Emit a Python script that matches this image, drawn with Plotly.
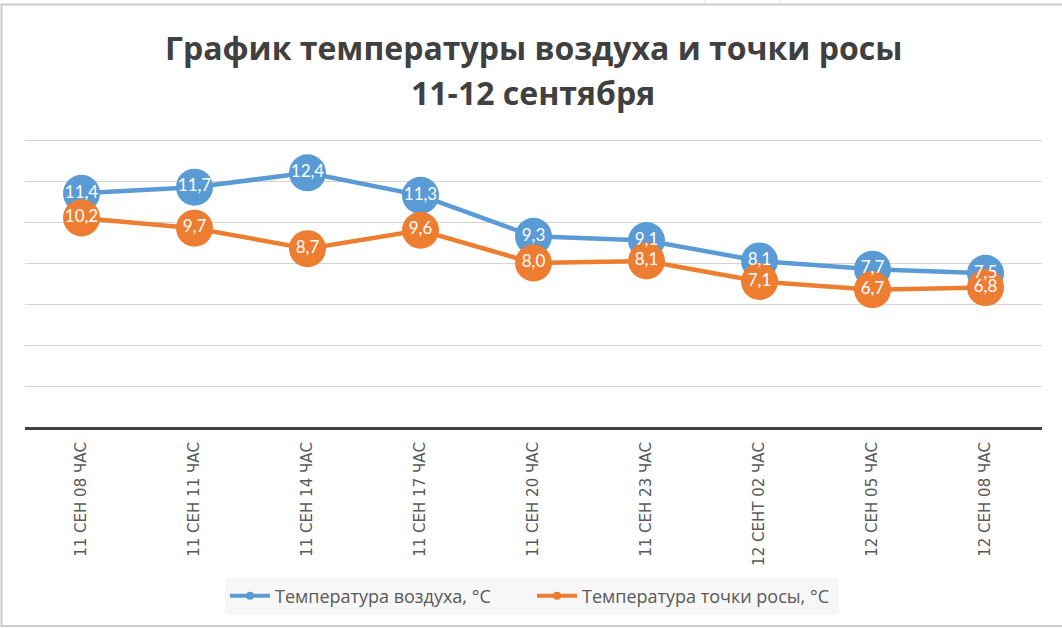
import plotly.graph_objects as go

categories = ["11 СЕН 08 ЧАС", "11 СЕН 11 ЧАС", "11 СЕН 14 ЧАС", "11 СЕН 17 ЧАС",
              "11 СЕН 20 ЧАС", "11 СЕН 23 ЧАС", "12 СЕНТ 02 ЧАС", "12 СЕН 05 ЧАС",
              "12 СЕН 08 ЧАС"]
air_temp = [11.4, 11.7, 12.4, 11.3, 9.3, 9.1, 8.1, 7.7, 7.5]
dew_point = [10.2, 9.7, 8.7, 9.6, 8.0, 8.1, 7.1, 6.7, 6.8]
series_names = ["Температура воздуха, °C", "Температура точки росы, °C"]
title_lines = ["График температуры воздуха и точки росы", "11-12 сентября"]

BLUE = "#5B9BD5"
ORANGE = "#ED7D31"
W, H = 1062, 628
YMAX = 14.05
L, R, T, B = 25, 20, 139, 201
pw, ph = W - L - R, H - T - B

def px_x(p):
    return (p - L) / pw

def px_y(p):
    return (H - B - p) / ph

fig = go.Figure()
xs = list(range(len(categories)))
for vals, col in [(air_temp, BLUE), (dew_point, ORANGE)]:
    fig.add_trace(go.Scatter(
        x=xs, y=vals, mode="lines+markers", showlegend=False,
        line=dict(color=col, width=4.5),
        marker=dict(size=37, color=col, line=dict(width=0)),
        hoverinfo="skip"))
for vals in [air_temp, dew_point]:
    fig.add_trace(go.Scatter(
        x=xs, y=vals, mode="text", showlegend=False,
        texttemplate="%{y:.1f}", textposition="middle center",
        textfont=dict(family="Lato", size=17, color="white"),
        hoverinfo="skip"))
for name, col in zip(series_names, [BLUE, ORANGE]):
    fig.add_trace(go.Scatter(
        x=[None], y=[None], mode="lines+markers", name=name,
        line=dict(color=col, width=4), marker=dict(size=8, color=col)))

shapes = [
    dict(type="rect", xref="paper", yref="paper",
         x0=px_x(1.5), x1=px_x(1075), y0=px_y(626), y1=px_y(4.5),
         line=dict(color="#cccccc", width=2), fillcolor="rgba(0,0,0,0)", layer="below"),
    dict(type="line", xref="paper", yref="paper",
         x0=px_x(705), x1=px_x(705), y0=px_y(0), y1=px_y(4),
         line=dict(color="#dddddd", width=1)),
    dict(type="line", xref="paper", yref="paper",
         x0=px_x(780), x1=px_x(780), y0=px_y(0), y1=px_y(4),
         line=dict(color="#dddddd", width=1)),
]

annotations = [
    dict(text=f"<b>{title_lines[0]}</b>", xref="paper", yref="paper",
         x=px_x(533), y=px_y(47), xanchor="center", yanchor="middle", showarrow=False,
         font=dict(family="Open Sans", size=32, color="#404040")),
    dict(text=f"<b>{title_lines[1]}</b>", xref="paper", yref="paper",
         x=px_x(533), y=px_y(92), xanchor="center", yanchor="middle", showarrow=False,
         font=dict(family="Open Sans", size=32, color="#404040")),
]

fig.update_layout(
    width=W, height=H,
    margin=dict(l=L, r=R, t=T, b=B, pad=0),
    paper_bgcolor="white", plot_bgcolor="white",
    separators=", ",
    shapes=shapes, annotations=annotations,
    legend=dict(orientation="h", x=px_x(532), y=px_y(596), xanchor="center", yanchor="middle",
                bgcolor="#f7f7f7", font=dict(family="Open Sans", size=18, color="#595959"),
                itemwidth=40, entrywidth=252, tracegroupgap=0),
    xaxis=dict(range=[-0.5, len(categories) - 0.5], tickmode="array", tickvals=xs,
               ticktext=categories, tickangle=-90, showgrid=False, zeroline=False,
               showline=True, linecolor="#404040", linewidth=3, ticks="",
               ticklabelstandoff=6,
               tickfont=dict(family="DejaVu Sans", size=15, color="#595959")),
    yaxis=dict(range=[0, YMAX], tickmode="array", tickvals=[0, 2, 4, 6, 8, 10, 12, 14],
               showticklabels=False, showgrid=True,
               gridcolor="#d4d4d4", gridwidth=1, zeroline=False, showline=False, ticks=""),
)

fig.write_html("out.html", config={"displayModeBar": False},
               post_script="document.body.style.margin='0';document.body.style.overflow='hidden';")
